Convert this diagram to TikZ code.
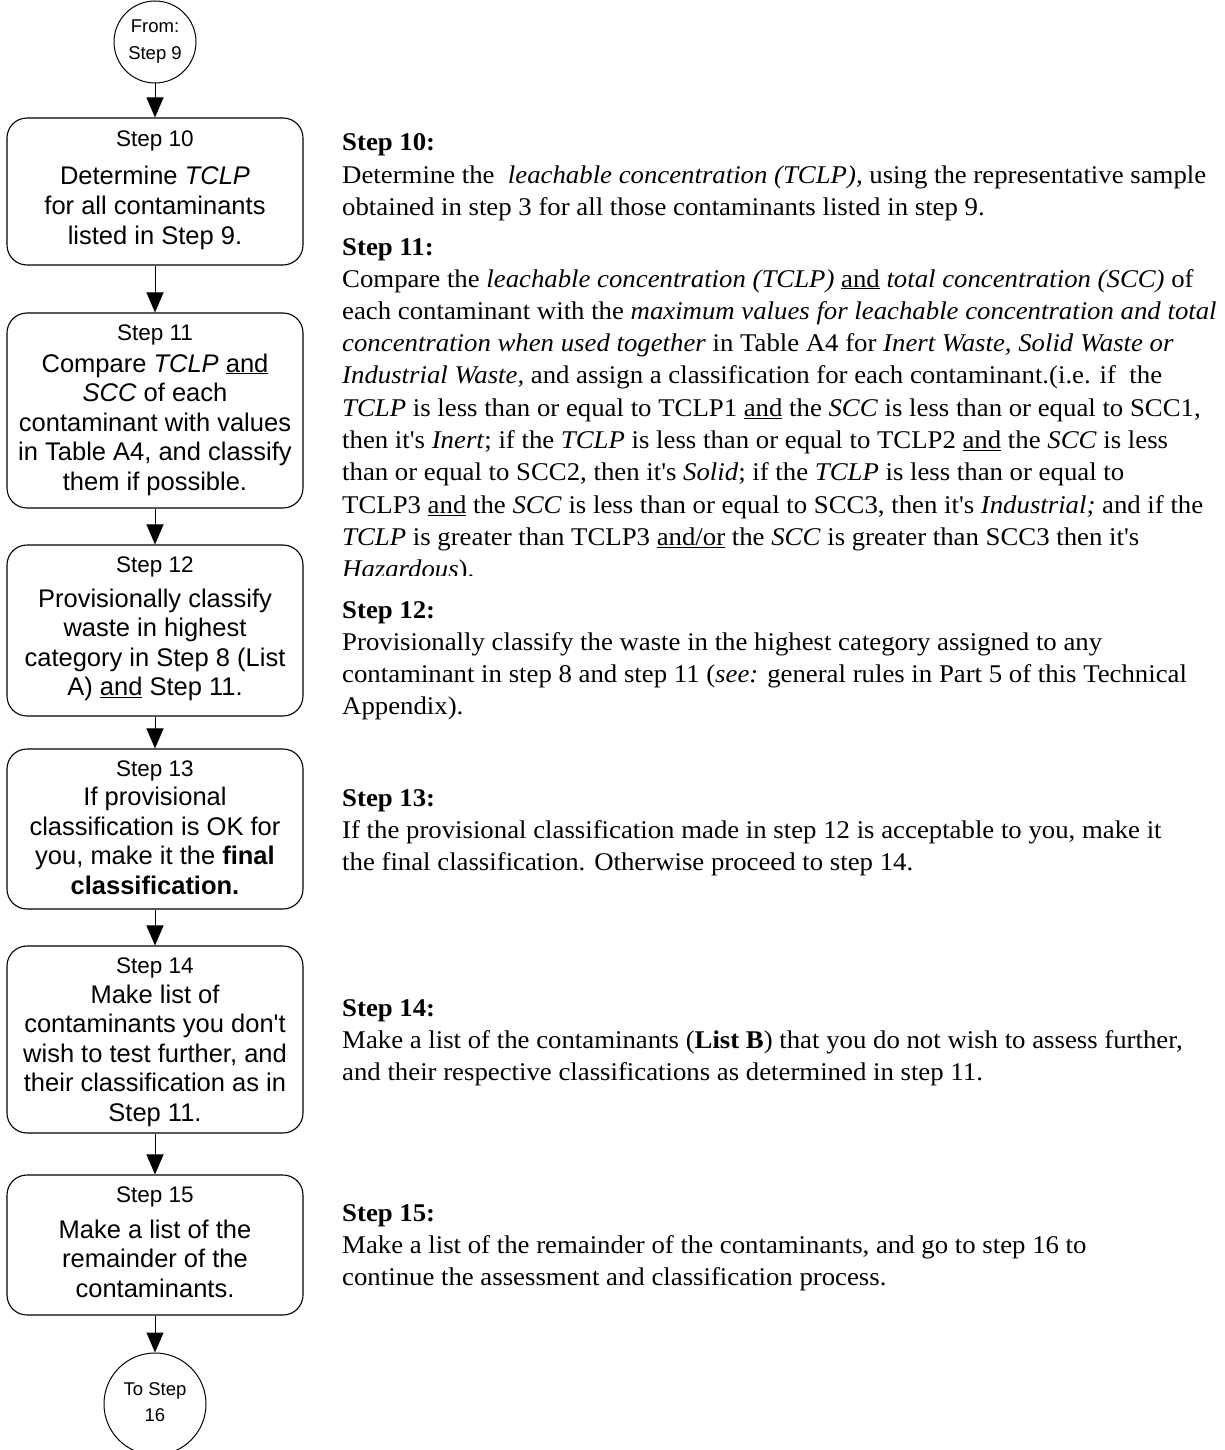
\documentclass[tikz,border=0pt]{standalone}
\usepackage{fontspec}
\setmainfont{Liberation Serif}
\newfontfamily\boxfont{Liberation Sans}
\newfontfamily\rtfont{Liberation Serif}[FakeStretch=1.05]
\usetikzlibrary{arrows.meta}
\newcommand{\clines}[1]{\begin{tabular}[t]{@{}c@{}}#1\end{tabular}}
\newcommand{\llines}[1]{\begin{tabular}[t]{@{}l@{}}#1\end{tabular}}
\tikzset{
  stepbox/.style={draw, line width=1.1pt, rounded corners=20pt, minimum width=296pt, inner sep=0pt},
  termcirc/.style={draw, circle, line width=1pt, inner sep=0pt},
  flowarr/.style={line width=1pt, -{Triangle[length=20pt,width=17pt]}},
  ttl/.style={anchor=base, inner sep=0pt, font=\boxfont\fontsize{22.5}{27}\selectfont},
  bdy/.style={anchor=base, inner sep=0pt, font=\boxfont\fontsize{25.5}{29.5}\selectfont},
  ctxt/.style={anchor=base, inner sep=0pt, font=\boxfont\fontsize{18.5}{26.5}\selectfont},
  rhead/.style={anchor=base west, inner sep=0pt, font=\rtfont\bfseries\fontsize{25.5}{32.3}\selectfont},
  rbody/.style={anchor=base west, inner sep=0pt, font=\rtfont\fontsize{25.5}{32.3}\selectfont},
}
\begin{document}
\begin{tikzpicture}[x=1pt,y=-1pt]
\useasboundingbox (0,0) rectangle (1224,1450);
\fill[white] (0,0) rectangle (1224,1450);

% ---------- left column: flow chart ----------
\node[termcirc, minimum size=82pt] (c1) at (155,42) {};
\node[ctxt] (c1t) at (155,33) {\clines{From:\\Step 9}};

\node[stepbox, minimum height=147pt] (s10) at (155,191.5) {};
\node[ttl] (s10t) at (155,147) {Step 10};
\node[bdy] (s10b) at (155,185) {\clines{Determine \textit{TCLP}\\for all contaminants\\listed in Step 9.}};

\node[stepbox, minimum height=195pt] (s11) at (155,410.5) {};
\node[ttl] (s11t) at (155,340) {Step 11};
\node[bdy] (s11b) at (155,372) {\clines{Compare \textit{TCLP} \underline{and}\\\textit{SCC} of each\\contaminant with values\\in Table A4, and classify\\them if possible.}};

\node[stepbox, minimum height=171pt] (s12) at (155,630.5) {};
\node[ttl] (s12t) at (155,572) {Step 12};
\node[bdy] (s12b) at (155,607) {\clines{Provisionally classify\\waste in highest\\category in Step 8 (List\\A) \underline{and} Step 11.}};

\node[stepbox, minimum height=160pt] (s13) at (155,829) {};
\node[ttl] (s13t) at (155,776) {Step 13};
\node[bdy] (s13b) at (155,805.5) {\clines{If provisional\\classification is OK for\\you, make it the \textbf{final}\\\textbf{classification.}}};

\node[stepbox, minimum height=187pt] (s14) at (155,1039.5) {};
\node[ttl] (s14t) at (155,973) {Step 14};
\node[bdy] (s14b) at (155,1003) {\clines{Make list of\\contaminants you don't\\wish to test further, and\\their classification as in\\Step 11.}};

\node[stepbox, minimum height=140pt] (s15) at (155,1245) {};
\node[ttl] (s15t) at (155,1202) {Step 15};
\node[bdy] (s15b) at (155,1238) {\clines{Make a list of the\\remainder of the\\contaminants.}};

\node[termcirc, minimum size=102pt] (c2) at (155,1404) {};
\node[ctxt] (c2t) at (155,1395) {\clines{To Step\\16}};

\draw[flowarr] (c1) -- (s10);
\draw[flowarr] (s10) -- (s11);
\draw[flowarr] (s11) -- (s12);
\draw[flowarr] (s12) -- (s13);
\draw[flowarr] (s13) -- (s14);
\draw[flowarr] (s14) -- (s15);
\draw[flowarr] (s15) -- (c2);

% ---------- right column: explanations ----------
\node[rhead] (h10) at (342,151) {Step 10:};
\node[rbody] (t10) at (342,183) {\llines{Determine the \ \textit{leachable concentration (TCLP),} using the representative sample\\obtained in step 3 for all those contaminants listed in step 9.}};

\node[rhead] (h11) at (342,255) {Step 11:};
\begin{scope}
\clip (330,262) rectangle (1224,575);
\node[rbody] (t11) at (342,287) {\llines{Compare the \textit{leachable concentration (TCLP)} \underline{and} \textit{total concentration (SCC)} of\\
each contaminant with the \textit{maximum values for leachable concentration and total}\\
\textit{concentration when used together} in Table A4 for \textit{Inert Waste, Solid Waste or}\\
\textit{Industrial Waste,} and assign a classification for each contaminant.(i.e. if \ the\\
\textit{TCLP} is less than or equal to TCLP1 \underline{and} the \textit{SCC} is less than or equal to SCC1,\\
then it's \textit{Inert}; if the \textit{TCLP} is less than or equal to TCLP2 \underline{and} the \textit{SCC} is less\\
than or equal to SCC2, then it's \textit{Solid}; if the \textit{TCLP} is less than or equal to\\
TCLP3 \underline{and} the \textit{SCC} is less than or equal to SCC3, then it's \textit{Industrial;} and if the\\
\textit{TCLP} is greater than TCLP3 \underline{and/or} the \textit{SCC} is greater than SCC3 then it's\\
\textit{Hazardous}).}};
\end{scope}

\node[rhead] (h12) at (342,618) {Step 12:};
\node[rbody] (t12) at (342,650) {\llines{Provisionally classify the waste in the highest category assigned to any\\contaminant in step 8 and step 11 (\textit{see:} general rules in Part 5 of this Technical\\Appendix).}};

\node[rhead] (h13) at (342,806) {Step 13:};
\node[rbody] (t13) at (342,838) {\llines{If the provisional classification made in step 12 is acceptable to you, make it\\the final classification. Otherwise proceed to step 14.}};

\node[rhead] (h14) at (342,1016) {Step 14:};
\node[rbody] (t14) at (342,1048) {\llines{Make a list of the contaminants (\textbf{List B}) that you do not wish to assess further,\\and their respective classifications as determined in step 11.}};

\node[rhead] (h15) at (342,1221) {Step 15:};
\node[rbody] (t15) at (342,1253) {\llines{Make a list of the remainder of the contaminants, and go to step 16 to\\continue the assessment and classification process.}};
\end{tikzpicture}
\end{document}
